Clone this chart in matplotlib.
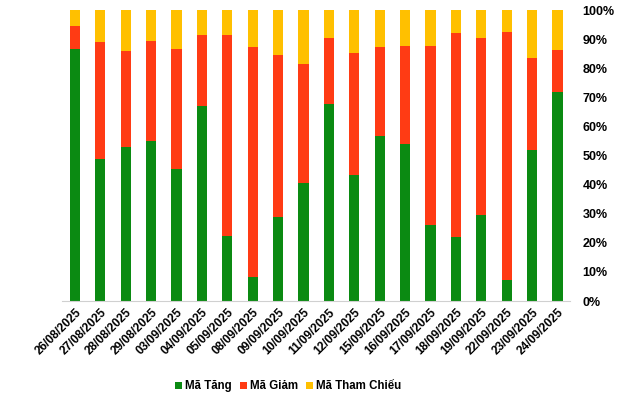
import numpy as np
import matplotlib
matplotlib.use('Agg')
import matplotlib.pyplot as plt
from matplotlib.ticker import PercentFormatter

plt.rcParams['font.family'] = ['Liberation Sans', 'DejaVu Sans']

dates = ['26/08/2025', '27/08/2025', '28/08/2025', '29/08/2025', '03/09/2025',
         '04/09/2025', '05/09/2025', '08/09/2025', '09/09/2025', '10/09/2025',
         '11/09/2025', '12/09/2025', '15/09/2025', '16/09/2025', '17/09/2025',
         '18/09/2025', '19/09/2025', '22/09/2025', '23/09/2025', '24/09/2025']

# % of codes
tang = [86.6, 48.8, 52.9, 55.0, 45.4, 67.0, 22.4, 8.2, 28.9, 40.5,
        67.7, 43.3, 56.7, 54.0, 26.1, 22.0, 29.6, 7.2, 51.9, 71.8]
giam = [7.9, 40.2, 33.0, 34.3, 41.2, 24.4, 69.0, 79.1, 55.6, 40.9,
        22.7, 41.9, 30.6, 33.6, 61.5, 70.1, 60.8, 85.2, 31.6, 14.5]
tham_chieu = [100 - a - b for a, b in zip(tang, giam)]

green = '#0b8a12'
red = '#ff3b14'
yellow = '#ffc000'

fig = plt.figure(figsize=(6.4, 3.94), dpi=100)
ax = fig.add_axes([0.0973, 0.236, 0.7937, 0.7386])

x = np.arange(len(dates))
w = 0.4
ax.bar(x, tang, w, color=green, label='Mã Tăng')
ax.bar(x, giam, w, bottom=tang, color=red, label='Mã Giảm')
ax.bar(x, tham_chieu, w, bottom=np.array(tang) + np.array(giam), color=yellow, label='Mã Tham Chiếu')

ax.set_xlim(-0.5, len(dates) - 0.5)
ax.set_ylim(0, 100)
ax.yaxis.tick_right()
ax.set_yticks(np.arange(0, 101, 10))
ax.yaxis.set_major_formatter(PercentFormatter(decimals=0))
ax.tick_params(axis='y', length=0, pad=9, labelsize=9)
ax.tick_params(axis='x', length=0, pad=4, labelsize=8.6)
for lab in ax.get_yticklabels():
    lab.set_fontweight('bold')

ax.set_xticks(x)
ax.set_xticklabels(dates, rotation=45, ha='right', rotation_mode='anchor', fontweight='bold')

for s in ['top', 'left', 'right']:
    ax.spines[s].set_visible(False)
ax.spines['bottom'].set_color('#d0d0d0')

fig.legend(loc='lower center', bbox_to_anchor=(0.45, -0.022), ncol=3, frameon=False,
           prop={'size': 8.3, 'weight': 'bold'}, handlelength=0.6, handleheight=0.6,
           handletextpad=0.25, columnspacing=0.7)

fig.savefig('out.png', dpi=100)
